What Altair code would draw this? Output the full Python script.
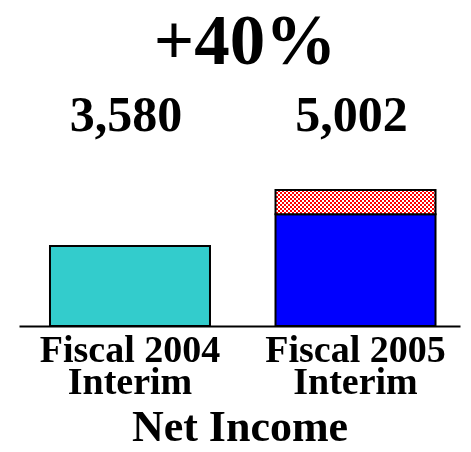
import altair as alt
import pandas as pd

# ---- data ----
categories = ["Fiscal 2004\nInterim", "Fiscal 2005\nInterim"]
net_income = [3580, 5002]
extra_item = [0, 1080]          # checkered segment on top of the 2005 bar
bar_colors = ["#33CCCC", "#0000FF"]
growth_label = ["+40%"]
axis_title = "Net Income"

df = pd.DataFrame({
    "cat": categories,
    "value": net_income,
    "extra": extra_item,
})
df["top"] = df["value"] + df["extra"]
head_df = pd.DataFrame({"t": growth_label})

FONT = "Liberation Serif"

# checkered fill: vertical red/white stripes, then horizontal black/cyan
# stripes blended with "difference" turn it into a checkerboard
def stripes(n, c1, c2, vertical):
    stops = []
    for i in range(n):
        c = c1 if i % 2 == 0 else c2
        stops.append(alt.GradientStop(offset=i / n, color=c))
        stops.append(alt.GradientStop(offset=(i + 1) / n, color=c))
    if vertical:
        return alt.LinearGradient(gradient="linear", stops=stops, x1=0, y1=0, x2=0, y2=1)
    return alt.LinearGradient(gradient="linear", stops=stops, x1=0, y1=0, x2=1, y2=0)

x_enc = alt.X(
    "cat:N", sort=None,
    scale=alt.Scale(paddingInner=0.2905, paddingOuter=0.123, align=0.5586),
    axis=alt.Axis(
        title=axis_title, labelAngle=0, ticks=False, domain=True,
        domainColor="black", domainWidth=2,
        labelFont=FONT, labelFontSize=38, labelFontWeight="bold", labelColor="black",
        labelLineHeight=32, labelPadding=5, labelLimit=0, labelOverlap=False,
        labelExpr="split(datum.label, '\\n')",
        titleFont=FONT, titleFontSize=44, titleFontWeight="bold", titleColor="black",
        titlePadding=4,
    ),
)
y_scale = alt.Scale(domain=[0, 10203], nice=False)

base = alt.Chart(df)

bars = base.mark_bar(stroke="black", strokeWidth=2).encode(
    x=x_enc,
    y=alt.Y("value:Q", scale=y_scale, axis=None),
    fill=alt.Fill("cat:N", sort=None, scale=alt.Scale(domain=categories, range=bar_colors), legend=None),
)

pat = base.transform_filter("datum.extra > 0")

pat_base = pat.mark_bar(fill=stripes(80, "#FF0000", "#FFFFFF", False), strokeWidth=0).encode(
    x=x_enc, y=alt.Y("value:Q", scale=y_scale), y2="top:Q")
pat_over = pat.mark_bar(fill=stripes(12, "#00FFFF", "#000000", True), strokeWidth=0,
                        blend="difference").encode(
    x=x_enc, y=alt.Y("value:Q", scale=y_scale), y2="top:Q")
pat_edge = pat.mark_bar(fill=None, fillOpacity=0, stroke="black", strokeWidth=2).encode(
    x=x_enc, y=alt.Y("value:Q", scale=y_scale), y2="top:Q")

labels = base.mark_text(font=FONT, fontSize=50, fontWeight="bold", color="black",
                        baseline="alphabetic", dx=-4).encode(
    x=x_enc,
    y=alt.value(33),
    text=alt.Text("value:Q", format=","),
)

headline = alt.Chart(head_df).mark_text(
    font=FONT, fontSize=71, fontWeight="bold", color="black",
    baseline="alphabetic", align="center",
).encode(
    x=alt.value(226),
    y=alt.value(-34),
    text="t:N",
)

chart = alt.layer(bars, pat_base, pat_over, pat_edge, labels, headline).properties(
    width=441, height=228,
    autosize=alt.AutoSizeParams(type="none"),
    padding={"left": 11, "top": 90, "right": 3, "bottom": 118},
).configure_view(stroke=None)

chart.save("out.html", embed_options={"renderer": "svg", "actions": False})
